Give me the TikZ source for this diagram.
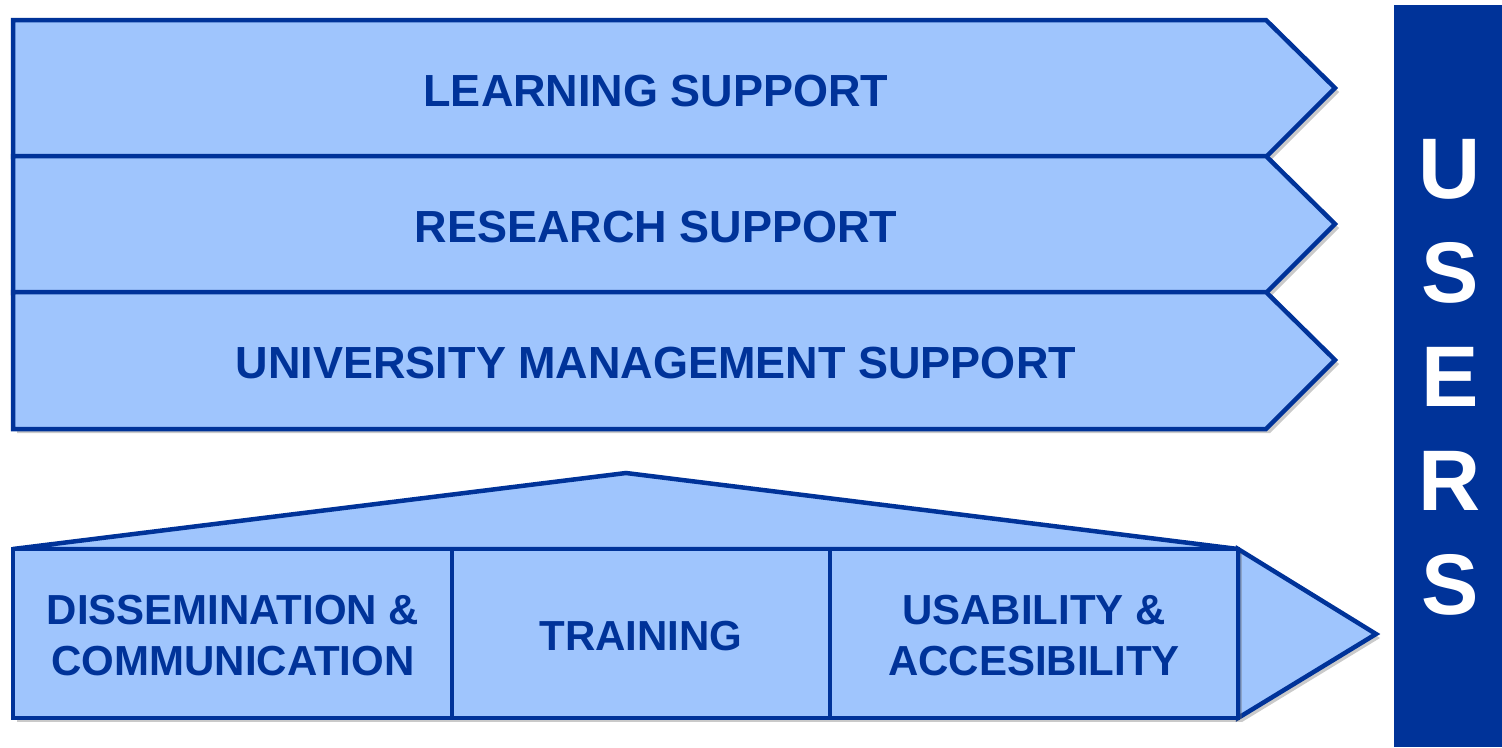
\documentclass[tikz,border=0pt]{standalone}
\usepackage{fontspec}
\setmainfont{Liberation Sans}
\usetikzlibrary{shadows}

\definecolor{boxfill}{HTML}{9FC5FD}
\definecolor{boxline}{HTML}{003399}

\tikzset{
  band/.style={draw=boxline, fill=boxfill, line width=4.5pt, line join=miter,
    drop shadow={shadow xshift=4pt, shadow yshift=-4pt, opacity=0.35, fill=black!60}},
  bandtext/.style={text=boxline, font=\fontsize{42}{51}\selectfont\bfseries, align=center},
  toptext/.style={bandtext, font=\fontsize{45}{54}\selectfont\bfseries},
  userstext/.style={text=white, font=\fontsize{86}{104}\selectfont\bfseries, align=center}
}

\begin{document}
\begin{tikzpicture}[x=1pt, y=-1pt]

  \useasboundingbox (0,0) rectangle (1502,747);

  % --- Support bands ---
  \foreach \top/\name/\lab in {20/learn/LEARNING SUPPORT,
                               156/research/RESEARCH SUPPORT,
                               292/manage/UNIVERSITY MANAGEMENT SUPPORT} {
    \path[band] (13,\top) -- (1266,\top) -- (1335,\top+68)
      -- (1266,\top+137) -- (13,\top+137) -- cycle;
    \node[toptext] (\name) at (656,\top+71) {\lab};
  }

  % --- Base: roof, boxes and tip ---
  \path[band] (13,549) -- (626,473) -- (1238,549) -- cycle;
  \path[band] (1238,549) -- (1376,634) -- (1238,718) -- cycle;
  \path[band] (13,549) rectangle (452,718);
  \path[band] (452,549) rectangle (830,718);
  \path[band] (830,549) rectangle (1238,718);

  \node[bandtext] (dissem) at (233,636) {DISSEMINATION \&\\COMMUNICATION};
  \node[bandtext] (train) at (641,636) {TRAINING};
  \node[bandtext] (usab) at (1034,636) {USABILITY \&\\ACCESIBILITY};

  % --- Users bar ---
  \fill[boxline] (1394,5) rectangle (1502,747);
  \node[userstext] (users) at (1450,377) {U\\S\\E\\R\\S};

\end{tikzpicture}
\end{document}
